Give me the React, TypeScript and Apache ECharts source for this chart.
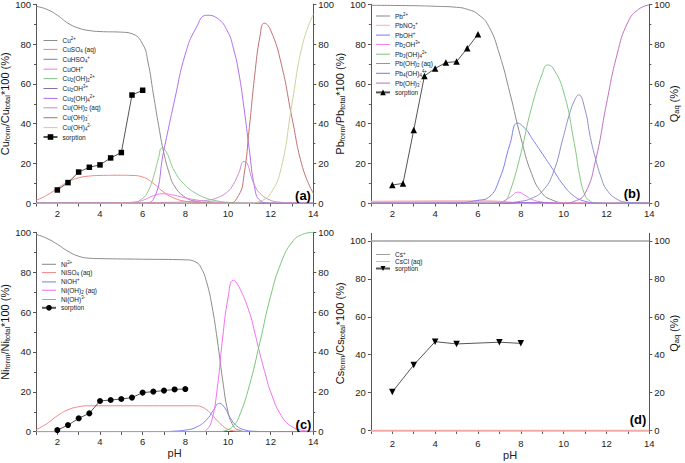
import React, { useEffect, useRef } from "react";
import * as echarts from "echarts";

const FONT = "'Liberation Sans', Arial, Helvetica, sans-serif";

// ---------- Panel (a): Cu speciation ----------
const A_CU = [[1,99],[1.5,97.5],[2,94.5],[2.5,90.5],[3,88],[3.5,86.8],[4,86.3],[5,86],[5.5,85.2],[6,80],[6.25,71],[6.5,55],[6.75,39],[7,25],[7.25,15],[7.5,8.5],[8,3],[8.5,1],[9,0.3],[10,0],[14,0]];
const A_CUSO4 = [[1,1.5],[1.5,4],[2,7.5],[2.5,10.8],[3,12.8],[3.5,13.7],[4,14],[5,14.1],[5.5,14],[6,13.2],[6.5,10],[7,5.5],[7.5,2.5],[8,1],[8.5,0.4],[9,0.1],[10,0],[14,0]];
const A_CUHSO4 = [[1,0.3],[3,0.3],[6,0.2],[7,0],[14,0]];
const A_CUOH = [[1,0],[5,0.2],[5.5,0.5],[6,1.5],[6.5,3.8],[6.9,4.8],[7.5,4],[8,2.7],[8.5,1.7],[9,1],[10,0.3],[11,0],[14,0]];
const A_CU2OH2 = [[1,0],[5.5,0.3],[6,2.5],[6.25,6],[6.5,13],[6.75,23],[6.9,27.8],[7.1,26],[7.5,16],[8,9],[8.5,5],[9,2.5],[9.5,1.2],[10,0.5],[11,0],[14,0]];
const A_CU2OH = [[1,0],[6,0.1],[7,0.2],[8,0],[14,0]];
const A_CU3OH4 = [[1,0],[6,0.2],[6.5,2],[7,27],[7.5,52],[8,75],[8.5,88],[9,94.5],[9.5,93],[10,86],[10.25,78],[10.5,66],[10.75,48],[11,27],[11.25,8],[11.5,1.5],[12,0],[14,0]];
const A_CUOH2 = [[1,0],[7.5,0.5],[8,0.8],[9,1.5],[9.5,2.8],[10,6],[10.25,9.5],[10.5,15],[10.75,21],[10.9,20],[11.1,13],[11.25,9],[11.5,5],[12,1.5],[12.5,0.5],[13,0.2],[14,0]];
const A_CUOH3 = [[1,0],[10,0],[10.5,4],[10.75,14],[11,38],[11.25,64],[11.5,84],[11.7,90.5],[12,87],[12.5,70],[13,43],[13.5,18],[14,5]];
const A_CUOH4 = [[1,0],[11,0],[11.5,1],[12,5],[12.5,18],[13,50],[13.5,80],[14,95]];
const A_SORP_PH = [2,2.5,3,3.5,4,4.5,5,5.5,6];
const A_SORP = [6.7,10.4,15.7,18.1,19.3,22.8,25.5,54.4,56.8];

// ---------- Panel (b): Pb speciation ----------
const B_PB = [[1,99.5],[3,99.3],[4,99],[5,98.5],[5.5,97.5],[6,95],[6.5,89],[7,75],[7.5,55],[8,33],[8.5,15],[9,5],[9.5,1.5],[10,0.3],[11,0],[14,0]];
const B_PBNO3 = [[1,0.8],[4,1],[6.5,1],[7,0.8],[7.5,0.4],[8,0.1],[9,0],[14,0]];
const B_PBOH = [[1,0],[5,0.3],[6,1.5],[6.5,3],[7,12],[7.5,30],[7.85,40.3],[8.25,37],[8.5,33],[9,25],[9.5,17],[10,9],[10.5,3.5],[11,1],[11.5,0.2],[12,0],[14,0]];
const B_PB2OH = [[1,0],[6.5,0],[7,0.5],[7.5,3],[7.85,5.6],[8.2,4],[8.5,2],[9,0.6],[9.5,0.1],[10,0],[14,0]];
const B_PB3OH4 = [[1,0],[7,0],[7.25,1],[7.5,6],[8,25],[8.5,48],[9,65],[9.25,69.5],[9.5,68],[10,56],[10.5,30],[10.75,14],[11,4],[11.25,1],[11.5,0],[14,0]];
const B_PBOH2 = [[1,0],[7,0],[8,1],[8.5,2.5],[9,6],[9.5,15],[10,34],[10.25,44],[10.5,51.5],[10.7,54.5],[11,47],[11.25,33],[11.5,22],[11.75,13],[12,7],[12.5,2],[13,0.5],[14,0]];
const B_PB4OH4 = [[1,0],[7,0],[8,0.4],[9,0.4],[10,0],[14,0]];
const B_PBOH3 = [[1,0],[10,0],[10.5,1],[11,5],[11.5,22],[12,50],[12.5,75],[13,91],[13.5,97.5],[14,99.7]];
const B_SORP_PH = [2,2.5,3,3.5,4,4.5,5,5.5,6];
const B_SORP = [9.2,10,36.8,64,67.8,70.7,71.2,77.9,84.9];

// ---------- Panel (c): Ni speciation ----------
const C_NI = [[1,99],[1.5,97],[2,94],[2.5,90.5],[3,88],[3.5,87],[4,86.8],[6,86.5],[8,86.2],[8.5,85],[8.75,82],[9,75],[9.25,63],[9.5,46],[9.75,26],[10,10],[10.25,3],[10.5,0.8],[11,0],[14,0]];
const C_NISO4 = [[1,1],[1.5,4],[2,8],[2.5,11],[3,12.5],[3.5,13],[8.5,13],[8.75,12.5],[9,11],[9.25,8.5],[9.5,5.5],[9.75,3],[10,1.2],[10.5,0.2],[11,0],[14,0]];
const C_NIOH = [[1,0],[7,0.1],[7.5,0.3],[8,0.8],[8.5,2.2],[9,6],[9.3,10.5],[9.6,14.2],[9.85,12],[10.1,7],[10.4,3],[10.75,1],[11.25,0.2],[12,0],[14,0]];
const C_NIOH2 = [[1,0],[8.75,0],[9,1],[9.25,6],[9.5,22],[9.75,47],[10,67],[10.25,76],[10.5,73],[11,60],[11.25,50],[11.5,39],[11.75,29],[12,20],[12.5,8],[13,2.5],[13.5,0.7],[14,0.2]];
const C_NIOH3 = [[1,0],[9.5,0],[10,1],[10.25,3],[10.5,7],[11,23],[11.5,45],[12,68],[12.5,85],[13,95],[13.5,99],[14,100]];
const C_SORP_PH = [2,2.5,3,3.5,4,4.5,5,5.5,6,6.5,7,7.5,8];
const C_SORP = [0.8,3.3,6.7,9.2,15.4,15.9,16.4,17.1,19.6,20.1,20.6,21.2,21.4];

// ---------- Panel (d): Cs speciation ----------
const D_CS = [[1,100],[14,100]];
const D_CSCL = [[1,0],[14,0]];
const D_SORP_PH = [2,3,4,5,7,8];
const D_SORP = [20.4,34.6,46.9,45.7,46.6,46.0];

const Y_TICKS = [0,20,40,60,80,100];
const X_TICK_LABELS = [2,4,6,8,10,12,14];

const LEGEND_TEXT: Record<string,string> = {
  "Cu2+": "{n|Cu}{sup|2+}",
  "CuSO4 (aq)": "{n|CuSO}{sub|4}{n| (aq)}",
  "CuHSO4+": "{n|CuHSO}{sub|4}{sup|+}",
  "CuOH+": "{n|CuOH}{sup|+}",
  "Cu2(OH)2 2+": "{n|Cu}{sub|2}{n|(OH)}{sub|2}{sup|2+}",
  "Cu2OH3+": "{n|Cu}{sub|2}{n|OH}{sup|3+}",
  "Cu3(OH)4 2+": "{n|Cu}{sub|3}{n|(OH)}{sub|4}{sup|2+}",
  "Cu(OH)2 (aq)": "{n|Cu(OH)}{sub|2}{n| (aq)}",
  "Cu(OH)3-": "{n|Cu(OH)}{sub|3}{sup|-}",
  "Cu(OH)4 2-": "{n|Cu(OH)}{sub|4}{sup|2-}",
  "sorption a": "{n|sorption}",
  "Pb2+": "{n|Pb}{sup|2+}",
  "PbNO3+": "{n|PbNO}{sub|3}{sup|+}",
  "PbOH+": "{n|PbOH}{sup|+}",
  "Pb2OH3+": "{n|Pb}{sub|2}{n|OH}{sup|3+}",
  "Pb3(OH)4 2+": "{n|Pb}{sub|3}{n|(OH)}{sub|4}{sup|2+}",
  "Pb(OH)2 (aq)": "{n|Pb(OH)}{sub|2}{n| (aq)}",
  "Pb4(OH)4 4+": "{n|Pb}{sub|4}{n|(OH)}{sub|4}{sup|4+}",
  "Pb(OH)3-": "{n|Pb(OH)}{sub|3}{sup|-}",
  "sorption b": "{n|sorption}",
  "Ni2+": "{n|Ni}{sup|2+}",
  "NiSO4 (aq)": "{n|NiSO}{sub|4}{n| (aq)}",
  "NiOH+": "{n|NiOH}{sup|+}",
  "Ni(OH)2 (aq)": "{n|Ni(OH)}{sub|2}{n| (aq)}",
  "Ni(OH)3-": "{n|Ni(OH)}{sup|3-}",
  "sorption c": "{n|sorption}",
  "Cs+": "{n|Cs}{sup|+}",
  "CsCl (aq)": "{n|CsCl (aq)}",
  "sorption d": "{n|sorption}",
};

type Curve = [string, number[][], string, number];

const PANELS = [
  {
    grid: { left: 36, top: 4.3, width: 277.3, height: 199 },
    yMin: 0, yMax: 100, custom: false,
    leftName: "{n|Cu}{sub|form}{n|/Cu}{sub|total}{n|*100 (%)}", leftGap: 16,
    rightName: "", xName: "",
    curves: [
      ["Cu2+", A_CU, "#8c8c8c", 1],
      ["CuSO4 (aq)", A_CUSO4, "#f08888", 1],
      ["CuHSO4+", A_CUHSO4, "#7f7fdc", 1],
      ["CuOH+", A_CUOH, "#f07cf0", 1],
      ["Cu2(OH)2 2+", A_CU2OH2, "#8cc88c", 1],
      ["Cu2OH3+", A_CU2OH, "#8070b0", 1],
      ["Cu3(OH)4 2+", A_CU3OH4, "#b070f0", 1],
      ["Cu(OH)2 (aq)", A_CUOH2, "#c890c8", 1],
      ["Cu(OH)3-", A_CUOH3, "#c07272", 1],
      ["Cu(OH)4 2-", A_CUOH4, "#d0d09a", 1],
    ] as Curve[],
    sorp: { name: "sorption a", x: A_SORP_PH, y: A_SORP, symbol: "rect", rotate: 0, size: 5.5 },
    legend: { left: 42.5, top: 36.5, gap: 1.9, lh: 8 },
    tag: { text: "(a)", x: 303, y: 195 },
  },
  {
    grid: { left: 370.9, top: 4.3, width: 278.4, height: 199 },
    yMin: 0, yMax: 100, custom: false,
    leftName: "{n|Pb}{sub|form}{n|/Pb}{sub|total}{n|*100 (%)}", leftGap: 12,
    rightName: "{n|Q}{sub|aq}{n| (%)}", xName: "",
    curves: [
      ["Pb2+", B_PB, "#8c8c8c", 1],
      ["PbNO3+", B_PBNO3, "#f5b4b4", 2],
      ["PbOH+", B_PBOH, "#8080f0", 1],
      ["Pb2OH3+", B_PB2OH, "#f07cf0", 1],
      ["Pb3(OH)4 2+", B_PB3OH4, "#80c880", 1],
      ["Pb(OH)2 (aq)", B_PBOH2, "#9090cc", 1],
      ["Pb4(OH)4 4+", B_PB4OH4, "#a070e0", 1],
      ["Pb(OH)3-", B_PBOH3, "#c070c0", 1],
    ] as Curve[],
    sorp: { name: "sorption b", x: B_SORP_PH, y: B_SORP, symbol: "triangle", rotate: 0, size: 6.5 },
    legend: { left: 375, top: 12, gap: 1.8, lh: 8 },
    tag: { text: "(b)", x: 632, y: 193 },
  },
  {
    grid: { left: 36, top: 232.3, width: 277.3, height: 199.4 },
    yMin: 0, yMax: 100, custom: false,
    leftName: "{n|Ni}{sub|form}{n|/Ni}{sub|total}{n|*100 (%)}", leftGap: 16,
    rightName: "", xName: "pH",
    curves: [
      ["Ni2+", C_NI, "#8c8c8c", 1],
      ["NiSO4 (aq)", C_NISO4, "#f08888", 1],
      ["NiOH+", C_NIOH, "#8080f0", 1],
      ["Ni(OH)2 (aq)", C_NIOH2, "#f070f0", 1],
      ["Ni(OH)3-", C_NIOH3, "#78c878", 1],
    ] as Curve[],
    sorp: { name: "sorption c", x: C_SORP_PH, y: C_SORP, symbol: "circle", rotate: 0, size: 6 },
    legend: { left: 41, top: 260.3, gap: 1.3, lh: 8 },
    tag: { text: "(c)", x: 303.5, y: 424 },
  },
  {
    grid: { left: 370.9, top: 233.3, width: 278.4, height: 200 },
    yMin: -1.4, yMax: 104, custom: true,
    leftName: "{n|Cs}{sub|form}{n|/Cs}{sub|total}{n|*100 (%)}", leftGap: 18,
    rightName: "{n|Q}{sub|aq}{n| (%)}", xName: "pH",
    curves: [
      ["Cs+", D_CS, "#a0a0a0", 1.5],
      ["CsCl (aq)", D_CSCL, "#f5a8a8", 2],
    ] as Curve[],
    sorp: { name: "sorption d", x: D_SORP_PH, y: D_SORP, symbol: "triangle", rotate: 180, size: 6.5 },
    legend: { left: 375, top: 251, gap: 0, lh: 7 },
    tag: { text: "(d)", x: 638, y: 419 },
  },
];

const AXIS_COLOR = "#555";
const LABEL_COLOR = "#222";
const LINE_ICON = "path://M0,0 L20,0 L20,1.5 L0,1.5 Z";

function richSet(fs: number, lh: number, color: string) {
  const base = { fontFamily: FONT, color, lineHeight: lh };
  return {
    n: { ...base, fontSize: fs },
    sub: { ...base, fontSize: fs * 0.68, verticalAlign: "bottom" },
    sup: { ...base, fontSize: fs * 0.68, verticalAlign: "top" },
  };
}

function buildOption() {
  const grid: any[] = [];
  const xAxis: any[] = [];
  const yAxis: any[] = [];
  const series: any[] = [];
  const legend: any[] = [];
  const graphic: any[] = [];

  PANELS.forEach((p, i) => {
    grid.push({ ...p.grid, containLabel: false, outerBoundsMode: "none" });
    const xb: any = {
      type: "value", gridIndex: i, position: "bottom", min: 1, max: 14, interval: 1,
      axisLine: { show: true, lineStyle: { color: AXIS_COLOR, width: 1 } },
      axisTick: { show: true, inside: false, length: 3, lineStyle: { color: AXIS_COLOR } },
      axisLabel: {
        fontSize: 9.5, fontFamily: FONT, color: LABEL_COLOR, margin: 5,
        formatter: (v: number) => (X_TICK_LABELS.includes(v) ? String(v) : ""),
      },
      splitLine: { show: false },
    };
    if (p.xName) {
      xb.name = "pH";
      xb.nameLocation = "middle";
      xb.nameGap = 15;
      xb.nameTextStyle = { fontSize: 11, fontFamily: FONT, color: LABEL_COLOR };
    }
    xAxis.push(xb);
    xAxis.push({
      type: "value", gridIndex: i, position: "top", min: 1, max: 14, interval: 1,
      axisLine: { show: true, lineStyle: { color: AXIS_COLOR, width: 1 } },
      axisTick: { show: true, inside: true, length: 3, lineStyle: { color: AXIS_COLOR } },
      axisLabel: { show: false },
      splitLine: { show: false },
    });
    const yCommon = (pos: "left" | "right") => {
      const ax: any = {
        type: "value", gridIndex: i, position: pos, min: p.yMin, max: p.yMax,
        axisLine: { show: true, lineStyle: { color: AXIS_COLOR, width: 1 } },
        axisTick: { show: true, inside: false, length: 3, lineStyle: { color: AXIS_COLOR } },
        axisLabel: { fontSize: 9.5, fontFamily: FONT, color: LABEL_COLOR, margin: 5 },
        splitLine: { show: false },
      };
      if (p.custom) {
        ax.axisLabel.customValues = Y_TICKS;
        ax.axisTick.customValues = Y_TICKS;
      } else {
        ax.interval = 20;
        ax.minorTick = { show: true, splitNumber: 2, length: 2, lineStyle: { color: AXIS_COLOR } };
      }
      return ax;
    };
    const yl = yCommon("left");
    yl.name = p.leftName;
    yl.nameLocation = "middle";
    yl.nameRotate = 90;
    yl.nameGap = p.leftGap;
    yl.nameTextStyle = { rich: richSet(11, 12, "#111") };
    yAxis.push(yl);
    const yr = yCommon("right");
    if (p.rightName) {
      yr.name = p.rightName;
      yr.nameLocation = "middle";
      yr.nameRotate = 90;
      yr.nameGap = 19;
      yr.nameMoveOverlap = false;
      yr.nameTextStyle = { rich: richSet(11, 12, "#111") };
    }
    yAxis.push(yr);

    const legendData: any[] = [];
    p.curves.forEach(([name, data, color, width]) => {
      legendData.push({ name, icon: LINE_ICON, itemStyle: { color, borderWidth: 0 } });
      series.push({
        type: "line", name, xAxisIndex: i * 2, yAxisIndex: i * 2,
        data, smooth: 0.5, symbol: "none",
        lineStyle: { color, width }, itemStyle: { color }, z: 2,
      });
    });
    legendData.push({ name: p.sorp.name });
    series.push({
      type: "line", name: p.sorp.name, xAxisIndex: i * 2, yAxisIndex: i * 2,
      data: p.sorp.x.map((x, k) => [x, p.sorp.y[k]]),
      symbol: p.sorp.symbol, symbolRotate: p.sorp.rotate, symbolSize: p.sorp.size,
      showSymbol: true,
      lineStyle: { color: "#555", width: 1 }, itemStyle: { color: "#000" }, z: 5,
    });
    legend.push({
      data: legendData, orient: "vertical", left: p.legend.left, top: p.legend.top,
      itemGap: p.legend.gap, itemWidth: 14, itemHeight: p.legend.lh - 1, padding: 0,
      selectedMode: false,
      formatter: (name: string) => LEGEND_TEXT[name] || name,
      textStyle: { fontSize: 6.5, fontFamily: FONT, color: LABEL_COLOR, rich: richSet(6.5, p.legend.lh, LABEL_COLOR) },
    });
    graphic.push({
      type: "text", x: p.tag.x, y: p.tag.y,
      style: { text: p.tag.text, fontSize: 13, fontWeight: "bold", fontFamily: FONT, fill: "#000", align: "center", verticalAlign: "middle" },
      z: 100,
    });
  });

  return { animation: false, backgroundColor: "#fff", grid, xAxis, yAxis, series, legend, graphic };
}

export default function App() {
  const ref = useRef<HTMLDivElement>(null);
  useEffect(() => {
    document.body.style.margin = "0";
    if (!ref.current) return;
    const chart = echarts.init(ref.current, undefined, { renderer: "svg" });
    chart.setOption(buildOption() as any);
    return () => chart.dispose();
  }, []);
  return <div ref={ref} style={{ width: 685, height: 463 }} />;
}
